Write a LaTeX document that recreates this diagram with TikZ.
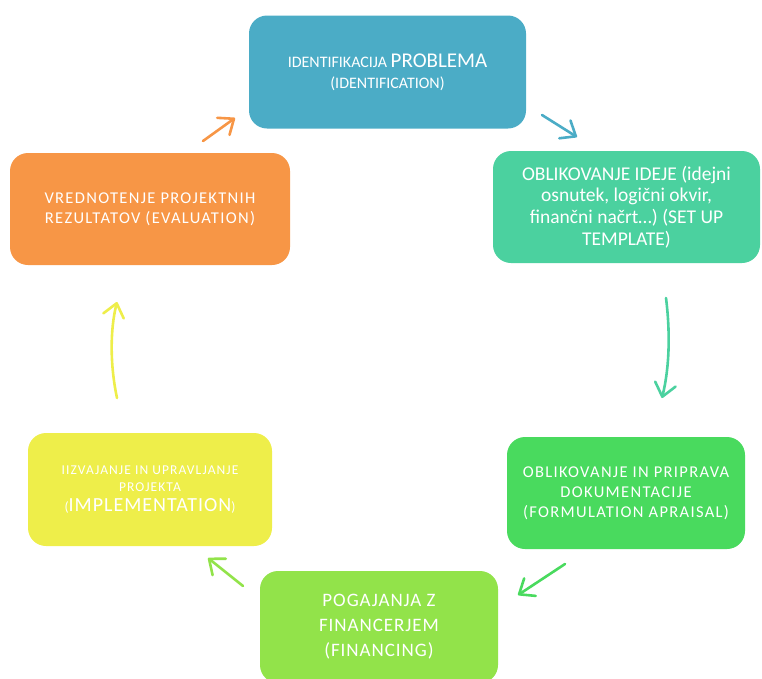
\documentclass[tikz,border=0pt]{standalone}
\usepackage{fontspec}
\setmainfont{Carlito}
\usetikzlibrary{arrows.meta}

\definecolor{cBlue}{HTML}{4BACC6}
\definecolor{cTeal}{HTML}{4BD19F}
\definecolor{cOrange}{HTML}{F79646}
\definecolor{cGreen}{HTML}{49DA5E}
\definecolor{cYellow}{HTML}{EEEE4A}
\definecolor{cLime}{HTML}{92E34A}

\tikzset{
  stage/.style={rounded corners=18pt, text=white, align=center,
    inner sep=0pt, anchor=center},
  flow/.style={line width=2.6pt, line cap=round,
    -{Straight Barb[length=13pt,width=21pt,round]}},
}

\newcommand{\fs}[2]{\fontsize{#1}{#2}\selectfont}
\newcommand{\ls}[1]{\addfontfeature{LetterSpace=#1}}

\begin{document}
\begin{tikzpicture}[x=1pt,y=-1pt]
  \useasboundingbox (0,0) rectangle (762,678);

  % process stages
  \node[stage, fill=cBlue, minimum width=277pt, minimum height=113pt,
        font=\fs{16}{20}] (ident) at (387.5,72)
    {\fs{16}{20}IDENTIFIKACIJA \fs{21}{20}PROBLEMA\\[1pt]\fs{16}{20}(IDENTIFICATION)};
  \node[stage, fill=cTeal, minimum width=267pt, minimum height=112pt,
        font=\fs{19.5}{21.7}] (setup) at (626.5,207)
    {OBLIKOVANJE IDEJE (idejni\\osnutek, logični okvir,\\finančni načrt\dots) (SET UP\\TEMPLATE)};
  \node[stage, fill=cGreen, minimum width=238pt, minimum height=112pt,
        font=\fs{16.5}{20}\ls{8}] (form) at (626,493)
    {OBLIKOVANJE IN PRIPRAVA\\DOKUMENTACIJE\\(FORMULATION APRAISAL)};
  \node[stage, fill=cLime, minimum width=238pt, minimum height=112pt,
        font=\fs{19}{25}\ls{5}] (fin) at (379,627)
    {POGAJANJA Z\\FINANCERJEM\\(FINANCING)};
  \node[stage, fill=cYellow, minimum width=244pt, minimum height=113pt,
        font=\fs{13.5}{17}\ls{8}] (impl) at (150,489.5)
    {IIZVAJANJE IN UPRAVLJANJE\\PROJEKTA\\[3pt]\fs{13.5}{17}\ls{8}(\fs{20}{17}\ls{5}IMPLEMENTATION\fs{13.5}{17}\ls{8})};
  \node[stage, fill=cOrange, minimum width=280pt, minimum height=112pt,
        font=\fs{16.5}{20}\ls{8}] (eval) at (150,209)
    {VREDNOTENJE PROJEKTNIH\\REZULTATOV (EVALUATION)};

  % arrow ends between the stages
  \coordinate (a1s) at (542,115);  \coordinate (a1e) at (577,137);
  \coordinate (a2s) at (666,298);  \coordinate (a2e) at (662,398);
  \coordinate (a3s) at (565,564);  \coordinate (a3e) at (518,595);
  \coordinate (a4s) at (243,586);  \coordinate (a4e) at (208,558);
  \coordinate (a5s) at (117,398);  \coordinate (a5e) at (117,302);
  \coordinate (a6s) at (203,141);  \coordinate (a6e) at (235,118);

  \draw[flow, cBlue]   (a1s) -- (a1e);
  \draw[flow, cTeal]   (a2s) .. controls (670,330) and (670,365) .. (a2e);
  \draw[flow, cGreen]  (a3s) -- (a3e);
  \draw[flow, cLime]   (a4s) -- (a4e);
  \draw[flow, cYellow] (a5s) .. controls (110,365) and (110,330) .. (a5e);
  \draw[flow, cOrange] (a6s) -- (a6e);
\end{tikzpicture}
\end{document}
